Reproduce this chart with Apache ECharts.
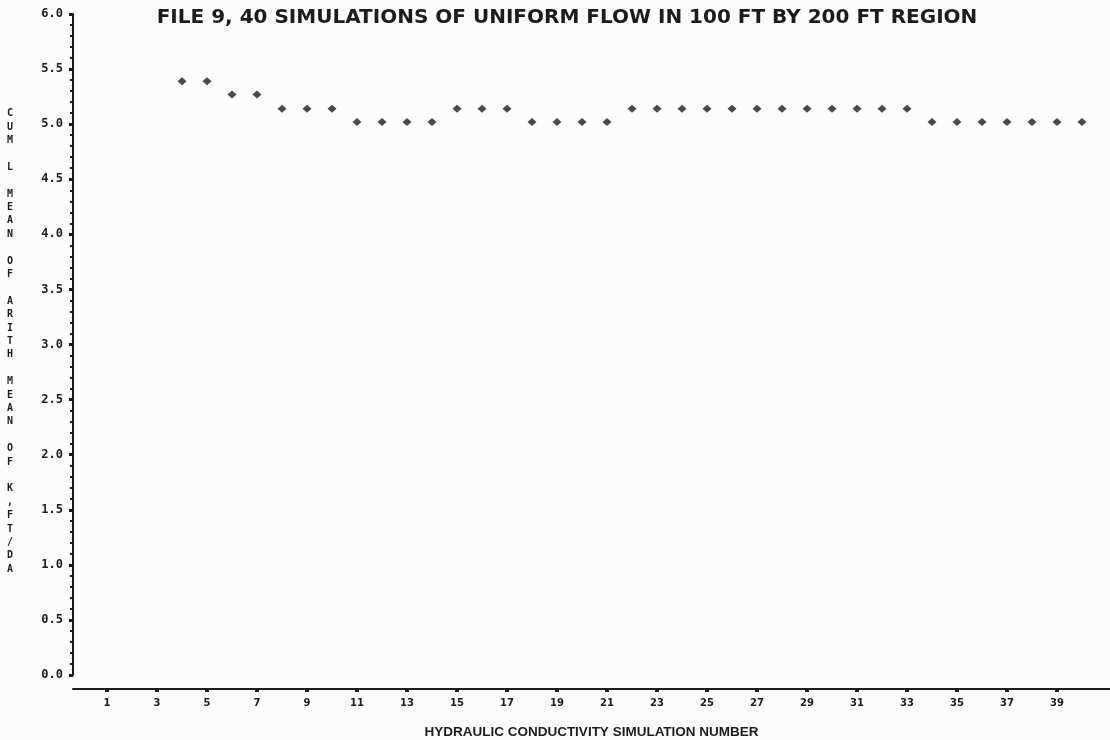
<!DOCTYPE html>
<html>
<head>
<meta charset="utf-8">
<script src="https://cdn.jsdelivr.net/npm/echarts@6/dist/echarts.min.js"></script>
<style>
html,body{margin:0;padding:0;background:#fcfcfc;}
#chart{width:1110px;height:740px;}
</style>
</head>
<body>
<div id="chart"></div>
<script>
// ---- data ----
const titleText = 'FILE 9, 40 SIMULATIONS OF UNIFORM FLOW IN 100 FT BY 200 FT REGION';
const xAxisTitle = 'HYDRAULIC CONDUCTIVITY SIMULATION NUMBER';
const yAxisTitle = 'CUM L MEAN OF ARITH MEAN OF K,FT/DA';
const simNumbers = [4,5,6,7,8,9,10,11,12,13,14,15,16,17,18,19,20,21,22,23,24,25,26,27,28,29,30,31,32,33,34,35,36,37,38,39,40];
const cumMeans   = [5.39,5.39,5.27,5.27,5.14,5.14,5.14,5.02,5.02,5.02,5.02,5.14,5.14,5.14,5.02,5.02,5.02,5.02,
                    5.14,5.14,5.14,5.14,5.14,5.14,5.14,5.14,5.14,5.14,5.14,5.14,
                    5.02,5.02,5.02,5.02,5.02,5.02,5.02];
const xTickLabels = [1,3,5,7,9,11,13,15,17,19,21,23,25,27,29,31,33,35,37,39];
const yTickLabels = ['0.0','0.5','1.0','1.5','2.0','2.5','3.0','3.5','4.0','4.5','5.0','5.5','6.0'];

const chart = echarts.init(document.getElementById('chart'));
const ink = '#1c1c1c';
// vertical stacked y-axis title: one character per line, words separated by a blank line
const yTitleStacked = yAxisTitle.split(' ').map(w => w.split('').join('\n')).join('\n\n');

chart.setOption({
  backgroundColor: '#fcfcfc',
  animation: false,
  title: {
    text: titleText,
    left: 562, top: 3, textAlign: 'center',
    textStyle: {fontFamily: 'DejaVu Sans', fontWeight: 'bold', fontSize: 20, color: ink}
  },
  grid: {left: 73, right: 0, top: 14, bottom: 65, outerBoundsMode: 'none', containLabel: false},
  xAxis: {
    type: 'value', min: -0.36, max: 41.12, offset: 14,
    axisLine: {show: true, onZero: false, lineStyle: {color: ink, width: 2}},
    axisTick: {show: true, customValues: xTickLabels, length: 3, lineStyle: {color: ink, width: 4}},
    axisLabel: {show: true, customValues: xTickLabels, margin: 9,
      fontFamily: 'DejaVu Sans', fontWeight: 'bold', fontSize: 10, color: ink},
    splitLine: {show: false},
    name: xAxisTitle, nameLocation: 'middle', nameGap: 36,
    nameTextStyle: {fontFamily: 'Liberation Sans', fontWeight: 'bold', fontSize: 13.5, color: ink}
  },
  yAxis: {
    type: 'value', min: 0, max: 6, interval: 0.5,
    axisLine: {show: true, onZero: false, lineStyle: {color: ink, width: 2}},
    axisTick: {show: true, length: 4, lineStyle: {color: ink, width: 3}},
    minorTick: {show: true, splitNumber: 5, length: 3, lineStyle: {color: ink, width: 2}},
    splitLine: {show: false},
    axisLabel: {margin: 10, formatter: v => yTickLabels[Math.round(v * 2)],
      fontFamily: 'DejaVu Sans Mono', fontWeight: 'bold', fontSize: 12, color: ink}
  },
  graphic: [{
    type: 'text', left: 7, top: 107,
    style: {text: yTitleStacked, font: 'bold 10px "DejaVu Sans Mono"', fill: ink,
      lineHeight: 13.4, align: 'center'}
  }],
  series: [{
    type: 'scatter',
    data: simNumbers.map((s, i) => [s, cumMeans[i]]),
    symbol: 'diamond', symbolSize: [9, 8],
    itemStyle: {color: ink}
  }]
});
</script>
</body>
</html>
